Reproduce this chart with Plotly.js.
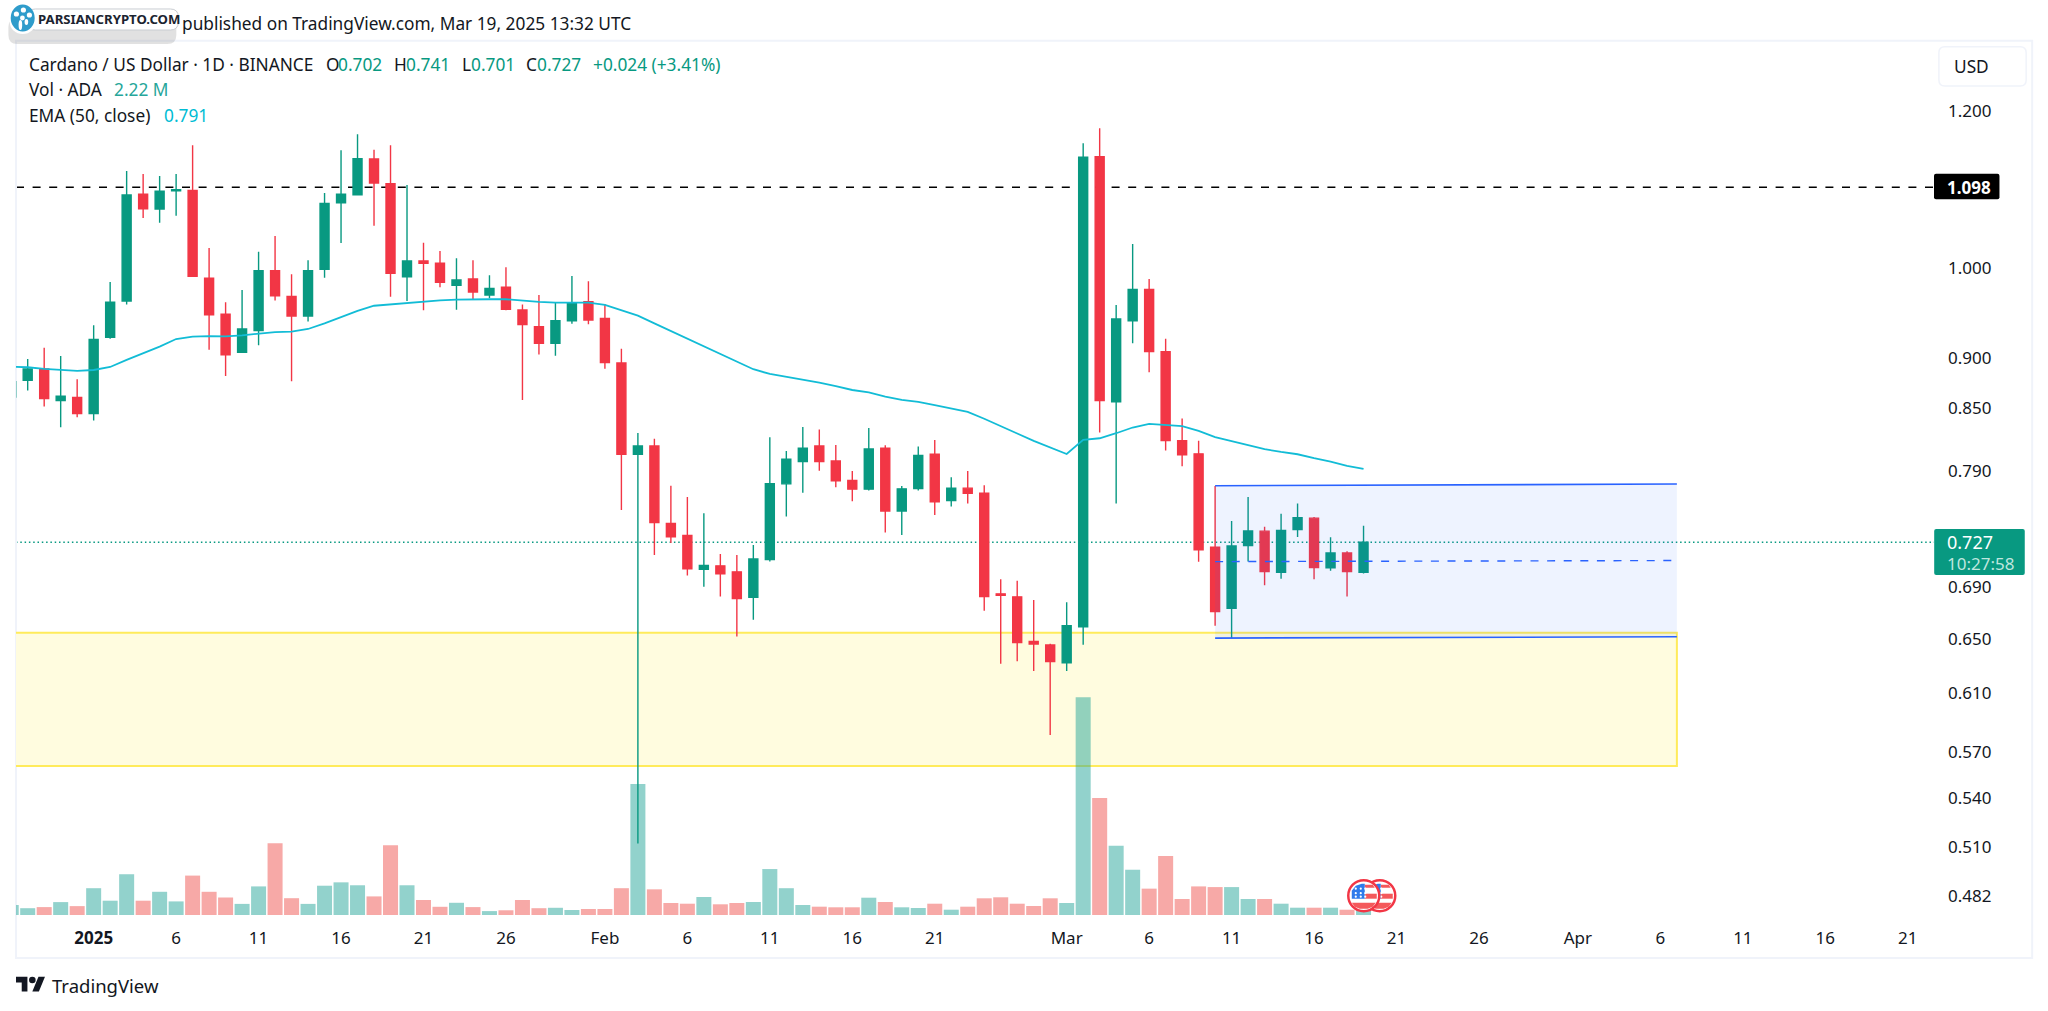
<!DOCTYPE html>
<html>
<head>
<meta charset="utf-8">
<script src="https://cdn.plot.ly/plotly-3.0.1.min.js"></script>
<style>html,body{margin:0;padding:0;background:#fff}#chart{width:2048px;height:1011px}</style>
</head>
<body>
<div id="chart"></div>
<script>
const dates = [
'2024-12-27','2024-12-28','2024-12-29','2024-12-30','2024-12-31',
'2025-01-01','2025-01-02','2025-01-03','2025-01-04','2025-01-05','2025-01-06','2025-01-07','2025-01-08','2025-01-09','2025-01-10','2025-01-11','2025-01-12','2025-01-13','2025-01-14','2025-01-15','2025-01-16','2025-01-17','2025-01-18','2025-01-19','2025-01-20','2025-01-21','2025-01-22','2025-01-23','2025-01-24','2025-01-25','2025-01-26','2025-01-27','2025-01-28','2025-01-29','2025-01-30','2025-01-31',
'2025-02-01','2025-02-02','2025-02-03','2025-02-04','2025-02-05','2025-02-06','2025-02-07','2025-02-08','2025-02-09','2025-02-10','2025-02-11','2025-02-12','2025-02-13','2025-02-14','2025-02-15','2025-02-16','2025-02-17','2025-02-18','2025-02-19','2025-02-20','2025-02-21','2025-02-22','2025-02-23','2025-02-24','2025-02-25','2025-02-26','2025-02-27','2025-02-28',
'2025-03-01','2025-03-02','2025-03-03','2025-03-04','2025-03-05','2025-03-06','2025-03-07','2025-03-08','2025-03-09','2025-03-10','2025-03-11','2025-03-12','2025-03-13','2025-03-14','2025-03-15','2025-03-16','2025-03-17','2025-03-18','2025-03-19'];
const open = [
.8605,.8775,.8890,.8570,.8600,
.8441,.9224,.9620,1.0890,1.0705,1.0935,1.0940,.9878,.9473,.9064,.9295,.9965,.9673,.9455,.9981,1.0784,1.0885,1.1345,1.1026,.9896,1.0078,1.0051,.9798,.9869,.9688,.9775,.9521,.9337,.9160,.9403,.9612,
.9429,.8953,.8052,.8130,.7430,.7327,.7045,.7073,.7024,.6820,.7125,.7780,.7984,.8130,.7990,.7810,.7732,.8108,.7539,.7738,.8052,.7630,.7741,.7696,.6847,.6823,.6479,.6452,
.6320,.6590,1.1376,.8559,.9403,.9752,.9071,.8180,.8056,.7229,.6732,.7241,.7364,.7021,.7377,.7476,.7057,.7180,.702];
const high = [
.885,.8994,.9113,.9026,.8785,
.9353,.9835,1.1190,1.1149,1.1124,1.1150,1.1528,1.0231,.9606,.9744,1.0188,1.0375,.9924,1.0086,1.0906,1.1461,1.1677,1.1469,1.1528,1.1008,1.0295,1.0196,1.0110,1.0086,.9912,1.0005,.9581,.9688,.9602,.9904,.9844,
.9587,.9101,.8254,.8199,.7763,.7662,.7519,.7172,.7163,.7247,.8213,.8083,.8311,.8288,.8140,.7896,.8302,.8137,.7761,.8124,.8187,.7840,.7896,.7767,.6964,.6951,.6799,.6462,
.6781,1.1555,1.1758,.9575,1.0279,.9869,.9207,.8394,.8180,.7761,.7452,.7663,.7402,.7515,.7605,.7487,.7312,.7195,.741];
const low = [
.852,.8670,.8510,.8309,.8405,
.8373,.9207,.9581,1.0594,1.0537,1.0623,.9901,.9092,.8819,.9060,.9138,.9625,.8764,.9393,.9885,1.0291,1.0881,1.0500,.9669,.9620,.9517,.9775,.9524,.9643,.9651,.9517,.8576,.9040,.9029,.9370,.9363,
.8893,.7548,.5123,.7162,.7264,.6994,.6904,.6825,.6516,.6643,.7108,.7491,.7701,.7900,.7749,.7625,.7719,.7352,.7332,.7719,.7504,.7578,.7605,.6713,.6313,.6331,.6260,.5812,
.6260,.6453,.8258,.7605,.9160,.8857,.8087,.7940,.7106,.6597,.6504,.7108,.6916,.6969,.7315,.6964,.7034,.6825,.701];
const close = [
.8761,.8890,.8590,.8614,.8441,
.9201,.9606,1.0881,1.0709,1.0928,1.0948,.9901,.9469,.9038,.9313,.9965,.9680,.9455,.9965,1.0776,1.0890,1.1349,1.1034,.9935,1.0078,1.0051,.9832,.9858,.9722,.9763,.9528,.9360,.9160,.9403,.9591,.9411,
.8957,.8052,.8130,.7439,.7315,.7048,.7076,.7008,.6809,.7130,.7782,.8006,.8108,.7984,.7807,.7732,.8102,.7539,.7735,.8040,.7619,.7741,.7696,.6825,.6835,.6471,.6459,.6329,
.6599,1.1370,.8570,.9422,.9752,.9071,.8180,.8048,.7206,.6707,.7238,.7366,.7026,.7370,.7481,.7059,.7180,.7026,.727];
const volume = [
4.44,3.02,3.51,5.73,3.95,
11.9,6.35,18.1,6.35,10.3,6.04,17.5,10.3,7.77,4.93,12.7,31.9,7.46,4.93,13.0,14.5,13.2,8.26,31.0,13.2,6.66,3.64,5.42,3.51,1.73,2.09,6.66,3.02,3.20,2.22,2.66,
2.66,11.9,58.2,11.4,5.33,5.02,7.99,4.75,5.33,5.77,20.4,11.9,4.44,3.69,3.42,3.42,7.68,5.77,3.42,3.11,5.02,2.35,3.69,7.41,7.86,5.02,4.00,7.41,
5.33,96.7,51.9,30.8,20.1,11.7,26.2,7.10,12.7,12.4,12.4,7.10,7.10,5.02,3.24,3.24,3.24,2.35,2.22];
const ema = [
.8914,.8908,.8892,.8880,.8870,
.8880,.8911,.8984,.9054,.9124,.9205,.9230,.9237,.9234,.9245,.9266,.9280,.9284,.9313,.9374,.9440,.9510,.9568,.9584,.9602,.9617,.9628,.9635,.9640,.9640,.9640,.9624,.9610,.9602,.9598,.9602,
.9577,.9514,.9458,.9374,.9291,.9205,.9124,.9041,.8961,.8888,.8839,.8811,.8781,.8751,.8715,.8676,.8653,.8609,.8576,.8556,.8524,.8495,.8459,.8391,.8323,.8248,.8178,.8112,
.8054,.8187,.8203,.8251,.8306,.8341,.8328,.8319,.8273,.8213,.8175,.8140,.8100,.8074,.8052,.8015,.7984,.7944,.7916];

const priceTicks = [1.2,1.0,0.9,0.85,0.79,0.69,0.65,0.61,0.57,0.54,0.51,0.482];
const timeTickDates = ['2025-01-01','2025-01-06','2025-01-11','2025-01-16','2025-01-21','2025-01-26','2025-02-01','2025-02-06','2025-02-11','2025-02-16','2025-02-21','2025-03-01','2025-03-06','2025-03-11','2025-03-16','2025-03-21','2025-03-26','2025-04-01','2025-04-06','2025-04-11','2025-04-16','2025-04-21'];
const timeTickText = ['<b>2025</b>','6','11','16','21','26','Feb','6','11','16','21','Mar','6','11','16','21','26','Apr','6','11','16','21'];
const resistance = 1.098, lastPrice = 0.727;
const zoneDates = ['2024-12-20','2025-04-07'], zonePrices = [0.5606,0.6545];
const channelDates = ['2025-03-10','2025-04-07'];
const channelTop = [0.7763,0.7778], channelMid = [0.7108,0.7117], channelBottom = [0.6504,0.6514];

const GREEN='#089981', RED='#F23645', TEXT='#131722', FONT='"Noto Sans", sans-serif';
const L=15.6,R=1934.5,T=41,B=920;
const px=x=>(x-L)/(R-L), py=y=>(B-y)/(B-T);
const P=(x,y)=>px(x).toFixed(5)+','+py(y).toFixed(5);
function rr(x0,y0,x1,y1,r){
  return 'M'+P(x0+r,y0)+' L'+P(x1-r,y0)+' Q'+P(x1,y0)+' '+P(x1,y0+r)+' L'+P(x1,y1-r)+' Q'+P(x1,y1)+' '+P(x1-r,y1)+' L'+P(x0+r,y1)+' Q'+P(x0,y1)+' '+P(x0,y1-r)+' L'+P(x0,y0+r)+' Q'+P(x0,y0)+' '+P(x0+r,y0)+' Z';
}
const deco=(o)=>Object.assign({xref:'paper',yref:'paper',layer:'above'},o);
const boxS=(x0,y0,x1,y1,r,fill,line,lw)=>deco({type:'path',path:rr(x0,y0,x1,y1,r),fillcolor:fill,line:{color:line||fill,width:lw||0}});
const circ=(cx,cy,rx,ry,fill,line,lw)=>deco({type:'circle',x0:px(cx-rx),x1:px(cx+rx),y0:py(cy+ry),y1:py(cy-ry),fillcolor:fill,line:{color:line||fill,width:lw||0}});
const poly=(pts,fill)=>deco({type:'path',path:'M'+pts.map(p=>P(p[0],p[1])).join(' L')+' Z',fillcolor:fill,line:{width:0}});

function flag(cx,cy){
  const r=15.5;
  const out=[circ(cx,cy,r,r,'#ffffff',RED,2.5)];
  const f='#F4595B';
  out.push(poly([[cx-12,cy+7],[cx+12,cy+7],[cx+9,cy+11],[cx+4,cy+13],[cx-4,cy+13],[cx-9,cy+11]],f));
  out.push(poly([[cx+1,cy-2],[cx+13,cy-2],[cx+13,cy+3],[cx+1,cy+3]],f));
  out.push(poly([[cx+1,cy-11],[cx+9,cy-11],[cx+11,cy-8],[cx+1,cy-8]],f));
  out.push(poly([[cx-12,cy+3],[cx-12,cy-5],[cx-8,cy-10],[cx-2,cy-12],[cx+1,cy-12],[cx+1,cy+3]],'#2F7BEB'));
  for(const dx of [-8,-3,1.5]) for(const dy of [-7,-2.5,1]) out.push(circ(cx+dx,cy+dy,1.1,1.1,'#ffffff'));
  return out;
}
const tv=(x,y)=>[15.6+x*0.817,976.7+(y-4)*0.817];

const shapes=[
  {type:'rect',xref:'x',yref:'y2',x0:zoneDates[0],x1:zoneDates[1],y0:zonePrices[0],y1:zonePrices[1],fillcolor:'#FFFCDF',line:{color:'#FFEB5B',width:2},layer:'below'},
  {type:'line',xref:'paper',yref:'y2',x0:0,x1:1,y0:resistance,y1:resistance,line:{color:'#000000',width:1.6,dash:'8px,8.6px'},layer:'below'},
  {type:'line',xref:'paper',yref:'y2',x0:0,x1:1,y0:lastPrice,y1:lastPrice,line:{color:GREEN,width:1.4,dash:'1.5px,2.8px'},layer:'below'},
  // pane frame
  deco({type:'path',path:'M'+P(15.6,40.7)+' L'+P(2032.7,40.7)+' L'+P(2032.7,958)+' L'+P(15.6,958)+' Z',line:{color:'#F0F3FA',width:2},layer:'below'}),
  // currency box
  boxS(1939.4,46.7,2026.7,86,6,'#ffffff','#F0F3FA',1.5),
  // price labels
  boxS(1934.5,173.7,2000,199.3,2,'#000000'),
  boxS(1934.7,529,2025.3,575,2,GREEN),
  // publisher pill
  boxS(8,18,176,44,9,'rgba(120,120,120,0.22)'),
  boxS(27,9,178,30,8,'#ffffff','#C9CDD2',1),
  circ(22.3,22,13,12,'#ffffff'),
  circ(22.3,18,12,13.5,'#2F9CCB'),
  circ(16,14,2.6,2.6,'#ffffff'),circ(23,10,2.6,2.6,'#ffffff'),circ(29,15,2.6,2.6,'#ffffff'),
  circ(22,18,2.4,2.4,'#ffffff'),circ(20,25,1.8,5,'#ffffff'),circ(26,22,1.8,3,'#ffffff'),
  // TradingView logo
  poly([tv(0,4),tv(14,4),tv(14,22),tv(7,22),tv(7,11),tv(0,11)],TEXT),
  poly([tv(27.5,4),tv(35.5,4),tv(28,22),tv(20,22)],TEXT),
  circ(...tv(20,8),3.3,3.3,TEXT),
  ...flag(1380,895.7),
  ...flag(1364,895.7)
];
const SZ=17.3;
const note=(x,y,t,o)=>Object.assign({xref:'paper',yref:'paper',x:px(x),y:py(y),text:t,showarrow:false,xanchor:'left',yanchor:'middle',borderpad:0,font:{family:FONT,size:SZ,color:TEXT}},o||{});
const gFont={family:FONT,size:SZ,color:GREEN};
const annotations=[
  note(181,23.3,'published on TradingView.com, Mar 19, 2025 13:32 UTC'),
  note(37,19,'<b>PARSIANCRYPTO.COM</b>',{font:{family:FONT,size:13.2,color:'#1b2430'}}),
  note(27.7,64,'Cardano / US Dollar · 1D · BINANCE'),
  note(325,64,'O'),note(337,64,'0.702',{font:gFont}),
  note(393,64,'H'),note(405,64,'0.741',{font:gFont}),
  note(460.7,64,'L'),note(470,64,'0.701',{font:gFont}),
  note(525,64,'C'),note(536,64,'0.727',{font:gFont}),
  note(592,64,'+0.024 (+3.41%)',{font:gFont}),
  note(27.7,90,'Vol · ADA'),note(112.5,90,'2.22 M',{font:{family:FONT,size:SZ,color:'#26A69A'}}),
  note(27.7,115.7,'EMA (50, close)'),note(162.5,115.7,'0.791',{font:{family:FONT,size:SZ,color:'#00BCD4'}}),
  note(1953.3,66,'USD'),
  note(1947,187,'<b>1.098</b>',{font:{family:FONT,size:17,color:'#ffffff'}}),
  note(1946.7,542,'0.727',{font:{family:FONT,size:18,color:'#ffffff'}}),
  note(1946.7,563,'10:27:58',{font:{family:FONT,size:17,color:'#BFE6DF'}}),
  note(50.4,985,'TradingView',{font:{family:FONT,size:18.5,color:TEXT}})
];

const traces=[
  {type:'bar',x:dates,y:volume,yaxis:'y',xaxis:'x',marker:{color:close.map((c,i)=>c>=open[i]?'rgba(38,166,154,0.5)':'rgba(239,83,80,0.5)'),line:{width:0}},hoverinfo:'skip',showlegend:false},
  {type:'scatter',mode:'lines',x:channelDates.concat(channelDates.slice().reverse()),y:channelTop.concat(channelBottom.slice().reverse()),fill:'toself',fillcolor:'rgba(41,98,255,0.08)',line:{width:0},yaxis:'y2',hoverinfo:'skip',showlegend:false},
  {type:'scatter',mode:'lines',x:channelDates,y:channelTop,line:{color:'#2962FF',width:1.6},yaxis:'y2',hoverinfo:'skip',showlegend:false},
  {type:'scatter',mode:'lines',x:channelDates,y:channelBottom,line:{color:'#2962FF',width:1.6},yaxis:'y2',hoverinfo:'skip',showlegend:false},
  {type:'scatter',mode:'lines',x:channelDates,y:channelMid,line:{color:'#2962FF',width:1.4,dash:'8px,8.6px'},yaxis:'y2',hoverinfo:'skip',showlegend:false},
  {type:'scatter',mode:'lines',x:dates,y:ema,line:{color:'#12BCD6',width:1.8},yaxis:'y2',hoverinfo:'skip',showlegend:false},
  {type:'candlestick',x:dates,open:open,high:high,low:low,close:close,yaxis:'y2',whiskerwidth:0,
   increasing:{line:{color:GREEN,width:1.4},fillcolor:GREEN},decreasing:{line:{color:RED,width:1.4},fillcolor:RED},hoverinfo:'skip',showlegend:false}
];
const layout={
  width:2048,height:1011,margin:{l:L,r:2048-R,t:T,b:1011-B,autoexpand:false},
  paper_bgcolor:'#ffffff',plot_bgcolor:'rgba(0,0,0,0)',showlegend:false,hovermode:false,dragmode:false,
  bargap:0.09,boxgap:0.22,
  font:{family:FONT,size:17,color:TEXT},
  xaxis:{type:'date',range:['2024-12-27 06:59','2025-04-22 14:10'],rangeslider:{visible:false},showgrid:false,zeroline:false,showline:false,ticks:'',ticklen:0,tickmode:'array',tickvals:timeTickDates,ticktext:timeTickText,tickangle:0,ticklabelstandoff:6,tickfont:{family:FONT,size:17,color:TEXT},automargin:false,fixedrange:true},
  yaxis:{range:[-2.22,388.1],showgrid:false,zeroline:false,showline:false,showticklabels:false,ticks:'',automargin:false,fixedrange:true},
  yaxis2:{type:'log',overlaying:'y',side:'right',anchor:'x',range:[-0.32902,0.11435],showgrid:false,zeroline:false,showline:false,ticks:'',tickmode:'array',tickvals:priceTicks,tickformat:'.3f',ticklabelstandoff:13,tickfont:{family:FONT,size:17,color:TEXT},automargin:false,fixedrange:true},
  shapes:shapes,annotations:annotations
};
Plotly.newPlot('chart',traces,layout,{displayModeBar:false,staticPlot:true,responsive:false});
</script>
</body>
</html>
